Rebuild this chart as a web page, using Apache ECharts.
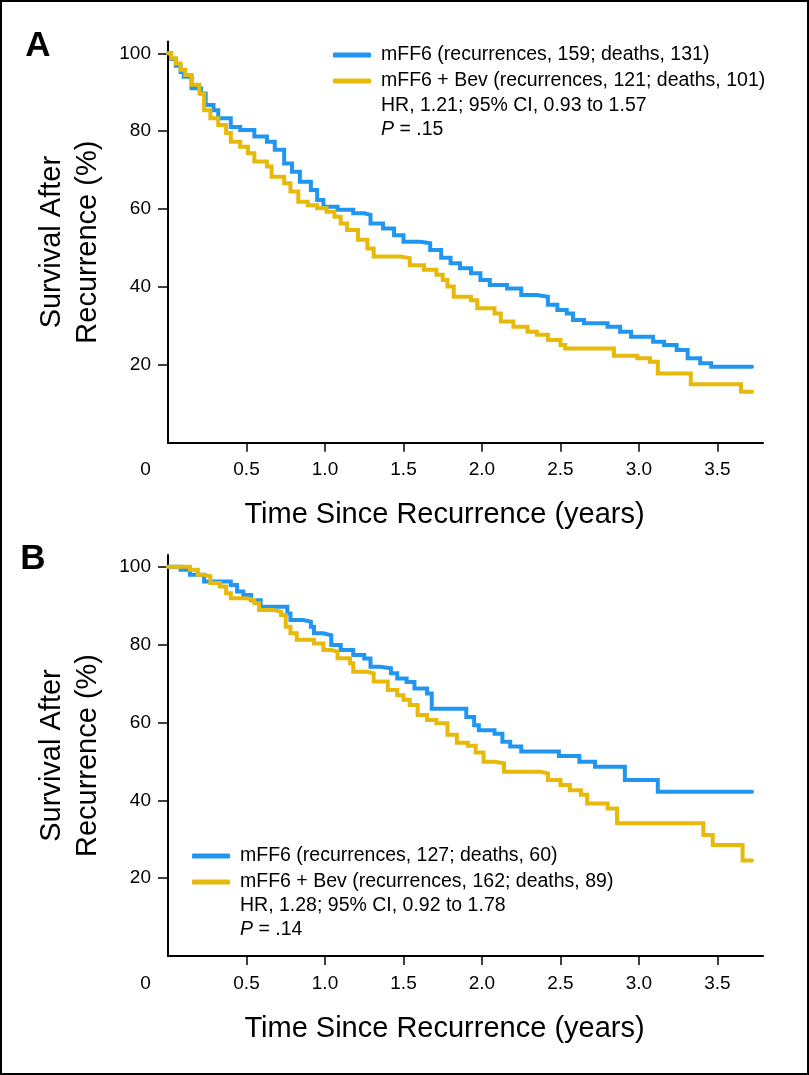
<!DOCTYPE html>
<html><head><meta charset="utf-8">
<script src="https://cdn.jsdelivr.net/npm/echarts@6/dist/echarts.min.js"></script>
<style>html,body{margin:0;padding:0;background:#fff}#c{width:809px;height:1075px}</style>
</head><body><div id="c"></div>
<script>
// ---------- data ----------
const xTickValues = [0.5, 1, 1.5, 2, 2.5, 3, 3.5];
const xLabelValues = [0, 0.5, 1, 1.5, 2, 2.5, 3, 3.5];
const yTickValues = [20, 40, 60, 80, 100];
const xTitle = 'Time Since Recurrence (years)';
const yTitle = 'Survival After\nRecurrence (%)';
const panelLetters = ['A', 'B'];

const seriesNamesA = ['mFF6 (recurrences, 159; deaths, 131)', 'mFF6 + Bev (recurrences, 121; deaths, 101)'];
const statsA = ['HR, 1.21; 95% CI, 0.93 to 1.57', '.15'];
const seriesNamesB = ['mFF6 (recurrences, 127; deaths, 60)', 'mFF6 + Bev (recurrences, 162; deaths, 89)'];
const statsB = ['HR, 1.28; 95% CI, 0.92 to 1.78', '.14'];

// Panel A – mFF6
const timeA1 = [0,0.02,0.05,0.08,0.10,0.15,0.21,0.24,0.29,0.32,0.40,0.46,0.55,0.63,0.68,0.74,0.79,0.84,0.91,0.95,0.99,1.08,1.18,1.25,1.29,1.37,1.44,1.50,1.61,1.67,1.74,1.80,1.86,1.93,1.99,2.05,2.16,2.25,2.35,2.42,2.48,2.54,2.58,2.65,2.80,2.88,2.95,3.09,3.16,3.24,3.31,3.39,3.46,3.72];
const survA1 = [100,98.5,96.8,95.2,94,91,89.7,86.7,85.4,83.3,81.1,80.3,78.6,77.3,75.2,71.7,69.6,67.0,64.9,62.3,60.6,59.8,58.9,58.5,56.3,55.0,53.3,51.6,51.2,49.5,47.5,46.1,44.8,43.5,41.8,40.5,39.6,37.9,37.5,35.4,34.1,33.2,31.5,30.7,29.8,28.5,27.2,25.9,25.1,23.8,21.7,20.4,19.5,19.5];
// Panel A – mFF6 + Bev
const timeA2 = [0,0.02,0.05,0.08,0.11,0.15,0.20,0.23,0.27,0.32,0.37,0.40,0.46,0.51,0.55,0.63,0.66,0.74,0.78,0.83,0.89,0.95,1.01,1.06,1.10,1.14,1.21,1.27,1.31,1.48,1.54,1.63,1.71,1.75,1.78,1.82,1.93,1.97,2.08,2.12,2.20,2.29,2.35,2.42,2.50,2.53,2.84,2.99,3.07,3.12,3.33,3.65,3.72];
const survA2 = [100,98.7,97.4,95.8,94.4,91.9,89.7,85.4,83.3,81.6,79.5,77.3,76.0,74.3,72.2,70.9,68.3,66.6,64.5,61.9,61.0,60.2,59.3,58.0,56.3,54.6,52.1,49.9,47.8,47.4,45.6,44.4,43.1,41.8,40.1,37.5,36.6,34.5,33.2,31.1,29.8,28.5,27.7,26.4,25.1,24.2,22.3,21.7,20.8,17.8,15.0,13.1,13.1];
// Panel B – mFF6
const timeB1 = [0,0.08,0.14,0.23,0.40,0.44,0.48,0.53,0.59,0.76,0.78,0.86,0.91,0.93,0.99,1.04,1.10,1.18,1.25,1.29,1.35,1.42,1.46,1.52,1.57,1.65,1.68,1.90,1.95,1.98,2.08,2.13,2.18,2.25,2.49,2.62,2.72,2.91,3.12,3.72];
const survB1 = [100,99.2,97.9,96.2,95.3,93.6,92.7,91.4,89.7,88.0,86.3,85.9,84.6,82.9,82.4,79.9,78.6,77.3,76.4,74.3,73.9,72.6,71.3,70.4,68.7,67.4,63.5,61.4,59.3,58.0,57.1,55.0,53.8,52.5,51.4,49.9,48.6,45.2,42.2,42.2];
// Panel B – mFF6 + Bev
const timeB2 = [0,0.14,0.19,0.23,0.27,0.33,0.37,0.40,0.50,0.55,0.58,0.67,0.72,0.75,0.78,0.82,0.93,0.99,1.04,1.08,1.16,1.18,1.27,1.31,1.40,1.46,1.50,1.54,1.59,1.65,1.71,1.78,1.84,1.91,1.96,2.01,2.08,2.14,2.37,2.42,2.50,2.56,2.63,2.67,2.80,2.86,3.41,3.47,3.66,3.72];
const survB2 = [100,99.2,97.9,97.5,95.8,94.9,93.2,91.9,91.4,90.6,88.9,88.4,87.6,84.6,82.9,81.2,80.3,78.6,78.2,76.5,75.2,73.0,72.6,70.5,68.3,67.0,65.8,64.5,61.9,60.6,59.8,56.8,54.8,54.0,52.3,49.9,49.5,47.3,46.9,45.2,43.9,42.6,41.4,39.2,37.9,34.1,31.1,28.5,24.5,24.5];

// ---------- style ----------
const FONT = '"Liberation Sans", Arial, Helvetica, sans-serif';
const BLUE = '#2196F0';
const YELLOW = '#E6B90A';
const pairs = (t, s) => t.map((v, i) => [v, s[i]]);

function xAxisCfg(gridIndex) {
  return {
    gridIndex, type: 'value', min: 0, max: 3.79,
    name: xTitle, nameLocation: 'middle', nameGap: 58,
    nameTextStyle: { fontFamily: FONT, fontSize: 29, color: '#000', padding: [0, 42, 0, 0] },
    axisLine: { show: true, lineStyle: { color: '#000', width: 2 } },
    axisTick: { show: true, length: 9, lineStyle: { color: '#000', width: 1.5 }, customValues: xTickValues },
    axisLabel: {
      customValues: xLabelValues, margin: 18, color: '#000', fontFamily: FONT, fontSize: 19,
      formatter: v => v === 0 ? '{z|0}' : v.toFixed(1),
      rich: { z: { padding: [0, 45, 0, 0], fontFamily: FONT, fontSize: 19, color: '#000' } }
    },
    splitLine: { show: false }
  };
}
function yAxisCfg(gridIndex) {
  return {
    gridIndex, type: 'value', min: 0, max: 103,
    name: yTitle, nameLocation: 'middle', nameGap: 62,
    nameTextStyle: { fontFamily: FONT, fontSize: 29, lineHeight: 36, color: '#000' },
    axisLine: { show: true, lineStyle: { color: '#000', width: 2 } },
    axisTick: { show: true, length: 10, lineStyle: { color: '#000', width: 1.5 }, customValues: yTickValues },
    axisLabel: { customValues: yTickValues, margin: 17, color: '#000', fontFamily: FONT, fontSize: 19 },
    splitLine: { show: false }
  };
}
function lineSeries(name, data, color, idx) {
  return {
    name, type: 'line', step: 'end', data, xAxisIndex: idx, yAxisIndex: idx,
    symbol: 'none', showSymbol: false, silent: true,
    lineStyle: { color, width: 4, cap: 'round', join: 'miter' }, itemStyle: { color }
  };
}
function legendCfg(names, left, top) {
  return {
    data: names, left, top, padding: 0, orient: 'vertical', icon: 'roundRect', itemWidth: 38, itemHeight: 5, itemGap: 6,
    selectedMode: false,
    textStyle: { fontFamily: FONT, fontSize: 19.5, lineHeight: 20, color: '#000', padding: [0, 0, 0, 5] }
  };
}
function statText(x, y, lines) {
  return [
    { type: 'text', left: x, top: y - 8, style: { text: lines[0], font: '19.5px ' + FONT, fill: '#000' } },
    { type: 'text', left: x, top: y + 16, style: { text: '{i|P} = ' + lines[1], font: '19.5px ' + FONT, fill: '#000',
        rich: { i: { fontStyle: 'italic', fontFamily: FONT, fontSize: 19.5, fill: '#000' } } } }
  ];
}

const chart = echarts.init(document.getElementById('c'), null, { renderer: 'canvas' });
chart.setOption({
  animation: false,
  backgroundColor: '#fff',
  grid: [
    { left: 168, right: 46, top: 41.6, bottom: 632.3 },
    { left: 168, right: 46, top: 555, bottom: 119 }
  ],
  xAxis: [xAxisCfg(0), xAxisCfg(1)],
  yAxis: [yAxisCfg(0), yAxisCfg(1)],
  legend: [legendCfg(seriesNamesA, 333, 45), legendCfg(seriesNamesB, 192, 846)],
  series: [
    lineSeries(seriesNamesA[0], pairs(timeA1, survA1), BLUE, 0),
    lineSeries(seriesNamesA[1], pairs(timeA2, survA2), YELLOW, 0),
    lineSeries(seriesNamesB[0], pairs(timeB1, survB1), BLUE, 1),
    lineSeries(seriesNamesB[1], pairs(timeB2, survB2), YELLOW, 1)
  ],
  graphic: [
    { type: 'rect', shape: { x: 1, y: 1, width: 807, height: 1073 }, style: { fill: 'none', stroke: '#000', lineWidth: 2 }, silent: true },
    { type: 'text', x: 38, y: 46, style: { text: panelLetters[0], font: 'bold 35px ' + FONT, fill: '#000', align: 'center', verticalAlign: 'middle' } },
    { type: 'text', x: 33, y: 559, style: { text: panelLetters[1], font: 'bold 35px ' + FONT, fill: '#000', align: 'center', verticalAlign: 'middle' } },
    ...statText(381, 104, statsA),
    ...statText(240, 904, statsB)
  ]
});
</script>
</body></html>
